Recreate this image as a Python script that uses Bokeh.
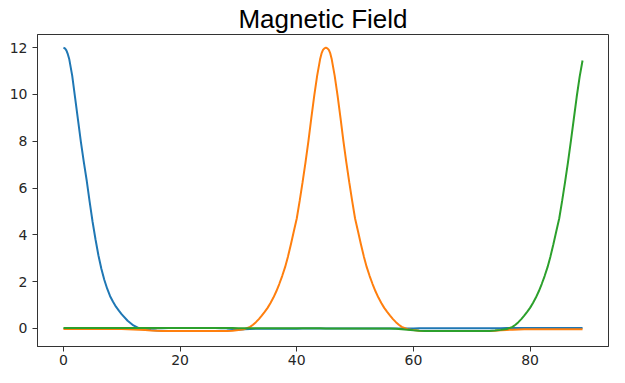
from bokeh.plotting import figure
from bokeh.models import FixedTicker, Range1d
from bokeh.embed import file_html
from bokeh.resources import INLINE

blue_x = [0, 0.25, 0.5, 0.75, 1, 1.5, 2, 2.5, 3, 3.5, 4, 4.5, 5, 5.5, 6, 6.5, 7, 7.5, 8, 8.5,
          9, 9.5, 10, 11, 12, 13, 14, 15, 16, 17, 18, 19, 20, 21, 22, 23, 24, 25, 26, 27, 28, 29,
          30, 31, 32, 33, 35, 40, 41, 45, 50, 55, 60, 61, 65, 70, 75, 76, 80, 85, 89]
blue = [12.0, 11.97, 11.88, 11.72, 11.5, 10.8, 9.85, 8.9, 7.95, 7.1, 6.3, 5.4, 4.55, 3.8, 3.12, 2.55, 2.08, 1.7, 1.38, 1.14,
        0.93, 0.76, 0.6, 0.33, 0.13, 0.0, -0.04, -0.07, -0.09, -0.1, -0.11, -0.11, -0.11, -0.11, -0.11, -0.11, -0.11, -0.11, -0.11, -0.1, -0.09, -0.07,
        -0.05, -0.03, -0.02, -0.01, -0.01, -0.01, 0.0, 0.0, 0.0, 0.0, 0.0, 0.01, 0.01, 0.01, 0.01, 0.02, 0.02, 0.02, 0.02]

orange_x = [0, 5, 10, 11, 12, 13, 14, 15, 16, 17, 20, 25, 28, 29, 30, 31, 32, 32.5, 33, 33.5, 34, 34.5, 35, 35.5, 36, 36.5,
            37, 37.5, 38, 38.5, 39, 39.5,
            40, 40.5, 41, 41.5, 42, 42.5, 43, 43.5, 44, 44.25, 44.5, 44.75, 45, 45.25, 45.5, 45.75, 46, 46.5, 47, 47.5,
            48, 48.5, 49, 49.5, 50, 50.5, 51, 51.5, 52, 52.5, 53, 53.5, 54, 54.5, 55, 55.5, 56, 56.5, 57, 57.5, 58,
            59, 60, 61, 62, 65, 70, 73, 74, 75, 76, 77, 78, 79, 85, 89]
orange = [-0.02, -0.02, -0.02, -0.03, -0.04, -0.05, -0.07, -0.09, -0.1, -0.11, -0.11, -0.11, -0.11, -0.1, -0.07, -0.03, 0.07, 0.16, 0.27, 0.4, 0.55, 0.71, 0.88, 1.09, 1.32, 1.59,
          1.9, 2.24, 2.62, 3.08, 3.6, 4.15,
          4.7, 5.45, 6.25, 7.1, 8.0, 9.0, 9.95, 10.8, 11.5, 11.75, 11.9, 11.97, 12.0, 11.97, 11.9, 11.75, 11.5, 10.8, 9.95, 9.0,
          8.0, 7.1, 6.25, 5.45, 4.7, 4.15, 3.6, 3.08, 2.62, 2.24, 1.9, 1.59, 1.32, 1.09, 0.88, 0.71, 0.55, 0.4, 0.27, 0.16, 0.07,
          -0.03, -0.07, -0.1, -0.11, -0.11, -0.11, -0.11, -0.1, -0.08, -0.06, -0.05, -0.04, -0.03, -0.03, -0.03]

green_x = [0, 10, 20, 29, 30, 40, 44, 45, 55, 56, 57, 58, 59, 60, 61, 62, 65, 70, 73, 74, 75, 76, 77, 77.5, 78, 78.5, 79, 79.5,
           80, 80.5, 81, 81.5, 82, 82.5, 83, 83.5, 84, 84.5, 85, 85.5, 86, 86.5, 87, 87.5, 88, 88.5, 89]
green = [0.02, 0.02, 0.02, 0.02, 0.01, 0.01, 0.01, 0.0, 0.0, 0.0, -0.01, -0.03, -0.05, -0.08, -0.1, -0.11, -0.11, -0.11, -0.11, -0.09, -0.06, -0.02, 0.07, 0.16, 0.27, 0.4, 0.55, 0.71,
         0.88, 1.09, 1.32, 1.59, 1.9, 2.24, 2.62, 3.08, 3.6, 4.15, 4.7, 5.45, 6.25, 7.1, 8.0, 8.95, 9.9, 10.75, 11.45]

x_ticks = [0, 20, 40, 60, 80]
y_ticks = [0, 2, 4, 6, 8, 10, 12]
title_text = "Magnetic Field"

p = figure(width=609, height=367, output_backend="svg", toolbar_location=None,
           x_range=Range1d(-4.45, 93.45), y_range=Range1d(-0.77, 12.56),
           min_border_left=37, min_border_right=1, min_border_top=0, min_border_bottom=0)

p.title.text = title_text
p.title.align = "center"
p.title.text_font = "Liberation Sans"
p.title.text_font_size = "26px"
p.title.text_font_style = "normal"
p.title.text_color = "#000000"
p.title.standoff = 2

for xs, ys, c in [(blue_x, blue, "#1f77b4"), (orange_x, orange, "#ff7f0e"), (green_x, green, "#2ca02c")]:
    p.line(xs, ys, line_color=c, line_width=2)

p.xgrid.visible = False
p.ygrid.visible = False
p.outline_line_color = "#333333"
p.outline_line_width = 1
p.background_fill_color = "white"
p.border_fill_color = "white"

p.xaxis.ticker = FixedTicker(ticks=x_ticks)
p.yaxis.ticker = FixedTicker(ticks=y_ticks)
for ax in (p.xaxis[0], p.yaxis[0]):
    ax.axis_line_color = "#333333"
    ax.major_tick_line_color = "#333333"
    ax.major_tick_out = 5
    ax.major_tick_in = 0
    ax.minor_tick_line_color = None
    ax.major_label_text_font = "DejaVu Sans"
    ax.major_label_text_font_size = "14px"
    ax.major_label_text_color = "#262626"
p.xaxis.major_label_standoff = 3
p.yaxis.major_label_standoff = 5

open("out.html", "w").write(file_html(p, INLINE))
